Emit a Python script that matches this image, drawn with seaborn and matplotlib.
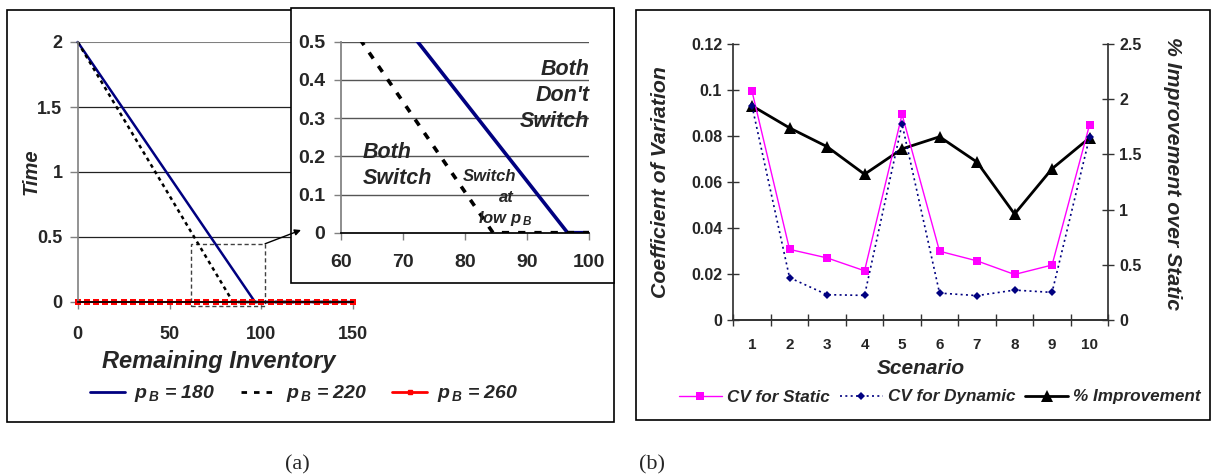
import matplotlib
matplotlib.use("Agg")
import matplotlib.pyplot as plt
from matplotlib.lines import Line2D
from matplotlib.patches import Rectangle, ConnectionPatch
import seaborn as sns

# panel (a): time vs remaining inventory
inv_180 = [0, 96.5, 150]
time_180 = [2.0, 0.0, 0.0]
inv_220 = [0, 84.5, 150]
time_220 = [2.0, 0.0, 0.0]
inv_260 = [0, 5, 10, 15, 20, 25, 30, 35, 40, 45, 50, 55, 60, 65, 70, 75,
           80, 85, 90, 95, 100, 105, 110, 115, 120, 125, 130, 135, 140, 145, 150]
time_260 = [0.0] * len(inv_260)
legend_a = [r"$p_{\,B}$ = 180", r"$p_{\,B}$ = 220", r"$p_{\,B}$ = 260"]

# panel (b): coefficient of variation per scenario
scenarios = [1, 2, 3, 4, 5, 6, 7, 8, 9, 10]
cv_static = [0.0994, 0.0307, 0.0270, 0.0214, 0.0894, 0.0299, 0.0257, 0.0198, 0.0239, 0.0849]
cv_dynamic = [0.0930, 0.0184, 0.0110, 0.0107, 0.0852, 0.0117, 0.0106, 0.0130, 0.0120, 0.0795]
pct_improvement = [1.94, 1.74, 1.57, 1.32, 1.55, 1.66, 1.43, 0.96, 1.37, 1.65]
legend_b = ["CV for Static", "CV for Dynamic", "% Improvement"]

W, H = 1211, 476
sns.set_theme(style="white")
plt.rcParams["font.family"] = ["Liberation Sans", "DejaVu Sans"]
plt.rcParams["font.weight"] = "bold"
plt.rcParams["mathtext.fontset"] = "custom"
plt.rcParams["mathtext.it"] = "Liberation Sans:italic:bold"
plt.rcParams["mathtext.rm"] = "Liberation Sans:italic:bold"

fig = plt.figure(figsize=(W / 100, H / 100), dpi=100)
fig.patch.set_facecolor("white")


def rect(x0, y0, x1, y1):
    # pixel box (top-left origin) -> figure fraction
    return [x0 / W, 1 - y1 / H, (x1 - x0) / W, (y1 - y0) / H]


NAVY = "#000080"
MAG = "#FF00FF"
BI = dict(style="italic", fontweight="bold")

# outer frames
for x0, y0, x1, y1 in [(7, 10, 614, 422), (636, 10, 1210, 420)]:
    fig.add_artist(Rectangle((x0 / W, 1 - y1 / H), (x1 - x0) / W, (y1 - y0) / H,
                             transform=fig.transFigure, fill=False,
                             edgecolor="black", lw=1.2, zorder=0.5))

# ---- panel (a) main
ax = fig.add_axes(rect(77.7, 42, 353.3, 302))
ax.set_zorder(0)
ax.patch.set_alpha(0)
sns.lineplot(x=inv_180, y=time_180, ax=ax, color=NAVY, lw=1.8)
sns.lineplot(x=inv_220, y=time_220, ax=ax, color="black", lw=1.8)
ax.lines[-1].set_dashes((1.5, 1.5))
sns.lineplot(x=inv_260, y=time_260, ax=ax, color="#FF0000", lw=1.5,
             marker="s", markersize=4.5, markeredgewidth=0)
for ln in ax.lines:
    ln.set_clip_on(False)
ax.set_xlim(0, 150)
ax.set_ylim(0, 2)
ax.set_xticks([0, 50, 100, 150])
ax.set_yticks([0, 0.5, 1, 1.5, 2])
ax.set_yticklabels(["0", "0.5", "1", "1.5", "2"])
for yv in [0.5, 1, 1.5]:
    ax.axhline(yv, color="#222222", lw=0.9, zorder=0.5)
ax.axhline(2, color="#808080", lw=1.5, zorder=0.5)
for s in ["top", "right"]:
    ax.spines[s].set_visible(False)
ax.spines["left"].set_color("#808080")
ax.spines["left"].set_linewidth(1.2)
ax.spines["bottom"].set_color("black")
ax.tick_params(axis="y", direction="out", length=6, width=1, color="#808080",
               pad=5, labelsize=13, left=True)
ax.tick_params(axis="x", direction="out", length=5, width=1, color="#808080",
               pad=12, labelsize=13, bottom=True)
ax.set_xlabel("Remaining Inventory", fontsize=17, **BI)
ax.xaxis.set_label_coords(0.51, -0.185)
ax.set_ylabel("Time", fontsize=14.5, **BI)
ax.yaxis.set_label_coords(-0.135, 0.5)
ax.add_patch(Rectangle((61.5, -0.03), 40.5, 0.478, fill=False, ls=(0, (3, 2)),
                       edgecolor="#404040", lw=1, clip_on=False))

# inset frame
fig.add_artist(Rectangle((291 / W, 1 - 283 / H), (614 - 291) / W, (283 - 8) / H,
                         transform=fig.transFigure, facecolor="white",
                         edgecolor="black", lw=1.2, zorder=1))

ins = fig.add_axes(rect(340.7, 41.7, 589.3, 232.7))
ins.set_zorder(2)
ins.patch.set_alpha(0)
sns.lineplot(x=inv_180, y=time_180, ax=ins, color=NAVY, lw=2.6)
sns.lineplot(x=inv_220, y=time_220, ax=ins, color="black", lw=2.6)
ins.lines[-1].set_dashes((2, 2.5))
ins.set_xlim(60, 100)
ins.set_ylim(0, 0.5)
ins.set_xticks([60, 70, 80, 90, 100])
ins.set_yticks([0, 0.1, 0.2, 0.3, 0.4, 0.5])
ins.set_yticklabels(["0", "0.1", "0.2", "0.3", "0.4", "0.5"])
for yv in [0.1, 0.2, 0.3, 0.4, 0.5]:
    ins.axhline(yv, color="#555555", lw=1, zorder=0.5)
for s in ["top", "right"]:
    ins.spines[s].set_visible(False)
ins.spines["left"].set_color("#808080")
ins.spines["bottom"].set_color("black")
ins.tick_params(axis="y", direction="out", length=5, width=1, color="#808080",
                pad=6, labelsize=14, left=True)
ins.tick_params(axis="x", direction="out", length=5, width=1, color="#808080",
                pad=10, labelsize=14, bottom=True)
for yv, s in zip([0.426, 0.358, 0.29], ["Both", "Don't", "Switch"]):
    ins.text(100, yv, s, ha="right", va="center", fontsize=15.5, **BI)
for yv, s in zip([0.209, 0.141], ["Both", "Switch"]):
    ins.text(63.6, yv, s, ha="left", va="center", fontsize=15.5, **BI)
ins.text(84.0, 0.146, "Switch", ha="center", va="center", fontsize=12, **BI)
ins.text(86.7, 0.093, "at", ha="center", va="center", fontsize=12, **BI)
ins.text(86.4, 0.038, r"low $p_{\,B}$", ha="center", va="center", fontsize=12, **BI)

arrow = ConnectionPatch(xyA=(102, 0.448), coordsA=ax.transData,
                        xyB=(301, H - 230), coordsB="figure pixels",
                        arrowstyle="-|>", mutation_scale=9, lw=1, color="black")
arrow.set_zorder(5)
fig.add_artist(arrow)

handles_a = [
    Line2D([], [], color=NAVY, lw=2),
    Line2D([], [], color="black", lw=2, dashes=(2, 2.5)),
    Line2D([], [], color="#FF0000", lw=2, marker="s", markersize=3),
]
fig.legend(handles_a, legend_a, loc="center", bbox_to_anchor=(304 / W, 1 - 394 / H),
           ncol=3, frameon=False, handlelength=1.8, handletextpad=0.5,
           columnspacing=1.3, prop=dict(size=14, style="italic", weight="bold"))

# ---- panel (b)
bx = fig.add_axes(rect(733.3, 44, 1108.3, 320))
bx2 = bx.twinx()
sns.lineplot(x=scenarios, y=cv_static, ax=bx, color=MAG, lw=1, marker="s",
             markersize=5.5, markeredgewidth=0)
sns.lineplot(x=scenarios, y=cv_dynamic, ax=bx, color=NAVY, lw=1.2, marker="D",
             markersize=4, markeredgewidth=0)
bx.lines[-1].set_dashes((1.2, 2))
sns.lineplot(x=scenarios, y=pct_improvement, ax=bx2, color="black", lw=2,
             marker="^", markersize=8.5, markeredgewidth=0)
bx.set_zorder(bx2.get_zorder() + 1)
bx.patch.set_alpha(0)
bx.set_xlim(0.5, 10.5)
bx.set_ylim(0, 0.12)
bx2.set_ylim(0, 2.5)
bx.set_yticks([0, 0.02, 0.04, 0.06, 0.08, 0.1, 0.12])
bx.set_yticklabels(["0", "0.02", "0.04", "0.06", "0.08", "0.1", "0.12"])
bx2.set_yticks([0, 0.5, 1, 1.5, 2, 2.5])
bx2.set_yticklabels(["0", "0.5", "1", "1.5", "2", "2.5"])
bx.set_xticks([i + 0.5 for i in range(0, 11)])
bx.set_xticklabels([])
bx.set_xticks(scenarios, minor=True)
bx.set_xticklabels([str(s) for s in scenarios], minor=True)
bx.tick_params(axis="x", which="major", direction="inout", length=8, width=1,
               color="#333333", bottom=True)
bx.tick_params(axis="x", which="minor", length=0, pad=13, labelsize=11)
bx.tick_params(axis="y", direction="inout", length=8, width=1, color="#333333",
               pad=4, labelsize=11.5, left=True)
bx2.tick_params(axis="y", direction="inout", length=8, width=1, color="#333333",
                pad=4, labelsize=11.5, right=True)
for a in (bx, bx2):
    a.spines["top"].set_visible(False)
    for s in ["left", "right", "bottom"]:
        a.spines[s].set_color("#333333")
bx2.spines["left"].set_visible(False)
bx.spines["right"].set_visible(False)
bx.set_xlabel("Scenario", fontsize=15, **BI)
bx.xaxis.set_label_coords(0.5, -0.14)
bx.set_ylabel("Coefficient of Variation", fontsize=15.3, **BI)
bx.yaxis.set_label_coords(-0.17, 0.5)
bx2.set_ylabel("% Improvement over Static", fontsize=15.3, rotation=270,
               va="center", **BI)
bx2.yaxis.set_label_coords(1.17, 0.53)

handles_b = [
    Line2D([], [], color=MAG, lw=1, marker="s", markersize=5.5, markeredgewidth=0),
    Line2D([], [], color=NAVY, lw=1.2, marker="D", markersize=4, markeredgewidth=0,
           dashes=(1.2, 2)),
    Line2D([], [], color="black", lw=2, marker="^", markersize=8.5, markeredgewidth=0),
]
fig.legend(handles_b, legend_b, loc="center", bbox_to_anchor=(940 / W, 1 - 397 / H),
           ncol=3, frameon=False, handlelength=2.5, handletextpad=0.3,
           columnspacing=0.6, prop=dict(size=12.3, style="italic", weight="bold"))

# captions
cap = dict(family=["Liberation Serif", "DejaVu Serif"], fontsize=16, fontweight="normal",
           ha="center", va="center")
fig.text(297 / W, 1 - 465 / H, "(a)", **cap)
fig.text(652 / W, 1 - 465 / H, "(b)", **cap)

fig.savefig("out.png", dpi=100)
